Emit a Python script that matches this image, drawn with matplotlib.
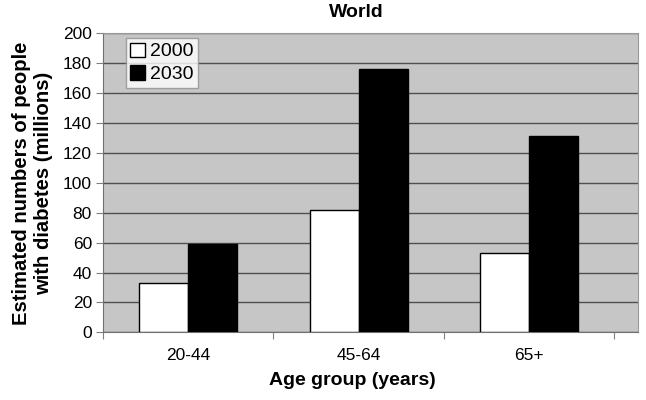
import numpy as np
import matplotlib.pyplot as plt

# data
age_groups = ["20-44", "45-64", "65+"]
year_2000 = [33, 82, 53]
year_2030 = [59, 176, 131]
y_ticks = [0, 20, 40, 60, 80, 100, 120, 140, 160, 180, 200]

plt.rcParams["font.family"] = ["Liberation Sans", "DejaVu Sans"]

fig = plt.figure(figsize=(6.46, 4.0), dpi=100)
ax = fig.add_axes([0.1595, 0.169, 0.828, 0.748])

x = np.arange(len(age_groups))
w = 0.287
ax.bar(x - w / 2, year_2000, w, color="white", edgecolor="black", linewidth=1, label="2000", zorder=3)
ax.bar(x + w / 2, year_2030, w, color="black", edgecolor="black", linewidth=1, label="2030", zorder=3)

ax.set_facecolor("#c6c6c6")
# the plot area runs a bit past the last category in the original
ax.set_xlim(-0.5, 2.638)
ax.set_ylim(0, 200)
ax.set_yticks(y_ticks)
ax.yaxis.grid(True, color="#505050", linewidth=1.0, zorder=1)
ax.set_axisbelow(True)

# category ticks sit between groups, labels centred
ax.set_xticks(np.arange(-0.5, len(age_groups), 1.0))
ax.set_xticklabels([])
ax.set_xticks(x, minor=True)
ax.set_xticklabels(age_groups, minor=True, fontsize=12.5)
ax.tick_params(axis="x", which="minor", length=0, pad=11)
ax.tick_params(axis="x", which="major", length=5, color="#808080")
ax.tick_params(axis="y", labelsize=12.5, length=5, color="#808080", pad=3)

for side in ["top", "right"]:
    ax.spines[side].set_color("#9a9a9a")
for side in ["left", "bottom"]:
    ax.spines[side].set_color("#707070")

ax.set_title("World", fontsize=14, fontweight="bold", x=0.473, pad=12)
ax.set_xlabel("Age group (years)", fontsize=14, fontweight="bold")
ax.xaxis.set_label_coords(0.467, -0.133)
ax.set_ylabel("Estimated numbers of people\nwith diabetes (millions)", fontsize=14.6,
              fontweight="bold", linespacing=1.2)
ax.yaxis.set_label_coords(-0.093, 0.498)

leg = ax.legend(loc="upper left", bbox_to_anchor=(0.042, 0.985), fontsize=14,
                frameon=True, fancybox=False, edgecolor="#909090",
                handlelength=0.75, handleheight=0.75, handletextpad=0.25,
                borderpad=0.25, labelspacing=0.25, borderaxespad=0.0)
leg.get_frame().set_linewidth(1.0)

fig.savefig("out.png", dpi=100)
